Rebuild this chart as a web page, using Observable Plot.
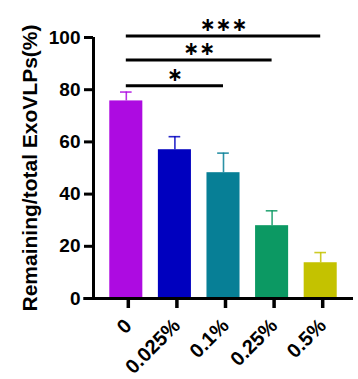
<!DOCTYPE html>
<html><head><meta charset="utf-8">
<script src="https://cdn.jsdelivr.net/npm/d3@7"></script>
<script src="https://cdn.jsdelivr.net/npm/@observablehq/plot@0.6"></script>
<style>
html,body{margin:0;padding:0;background:#fff}
#chart svg{display:block}
</style>
</head><body><div id="chart"></div>
<script>
// ---- data ----
const categories = ["0", "0.025%", "0.1%", "0.25%", "0.5%"];
const means = [75.7, 57.0, 48.2, 27.9, 13.7];
const sds = [3.4, 5.0, 7.5, 5.7, 3.9];
const colors = ["#AD0BE1", "#0000BF", "#077F96", "#0C9963", "#C4C200"];
const yTicks = [0, 20, 40, 60, 80, 100];
const compFrom = ["0", "0", "0"];
const compTo = ["0.1%", "0.25%", "0.5%"];
const compY = [81.5, 91.4, 100.6];
const compLabels = ["∗", "∗∗", "∗∗∗"];
const yTitle = "Remaining/total ExoVLPs(%)";

// ---- layout/style ----
const halfBar = 0.34;     // half bar width in category steps
const halfCap = 0.12;
const pad = 0.675;        // outer pad in category steps

const bars = categories.map((c, i) => ({i, c, mean: means[i], sd: sds[i], color: colors[i]}));
const comps = compFrom.map((f, k) => {
  const a = categories.indexOf(f), b = categories.indexOf(compTo[k]);
  return {a, b, mid: (a + b) / 2, y: compY[k], label: compLabels[k]};
});

const font = "'Liberation Sans', Arial, sans-serif";

const plot = Plot.plot({
  width: 358,
  height: 379,
  marginLeft: 93,
  marginRight: 5,
  marginTop: 37,
  marginBottom: 81,
  style: {fontFamily: font, fontWeight: "bold", background: "#fff", overflow: "visible"},
  x: {type: "linear", domain: [-pad, categories.length - 1 + pad]},
  y: {domain: [0, 100]},
  marks: [
    Plot.rectY(bars, {x1: d => d.i - halfBar, x2: d => d.i + halfBar, y1: 0, y2: "mean", fill: "color"}),
    Plot.ruleX(bars, {x: "i", y1: "mean", y2: d => d.mean + d.sd, stroke: "color", strokeWidth: 1.6, strokeOpacity: 0.85}),
    Plot.ruleY(bars, {x1: d => d.i - halfCap, x2: d => d.i + halfCap, y: d => d.mean + d.sd, stroke: "color", strokeWidth: 1.6, strokeOpacity: 0.85}),
    Plot.ruleX([-pad], {y1: 0, y2: 100, stroke: "#000", strokeWidth: 3}),
    Plot.ruleY([0], {x1: -pad - 0.2, x2: categories.length - 1 + pad, stroke: "#000", strokeWidth: 3}),
    Plot.axisY({ticks: yTicks, tickSize: 9, tickPadding: 4, strokeWidth: 3, fontSize: 19, label: null, color: "#000"}),
    Plot.axisX({ticks: categories.map((c, i) => i), tickFormat: i => categories[i], tickSize: 10, tickPadding: 14, dx: 2, strokeWidth: 3.5, tickRotate: -45, fontSize: 20, label: null, color: "#000"}),
    Plot.ruleY(comps, {x1: "a", x2: "b", y: "y", stroke: "#000", strokeWidth: 3}),
    Plot.text(comps, {x: "mid", y: "y", text: "label", dy: -11, fontSize: 19, fontFamily: "DejaVu Sans", fontWeight: "bold", fill: "#000"}),
    Plot.text([yTitle], {frameAnchor: "left", rotate: -90, dx: -63, textAnchor: "middle", fontSize: 21, fontWeight: "bold", fill: "#000"})
  ]
});
document.getElementById("chart").append(plot);
</script>
</body></html>
